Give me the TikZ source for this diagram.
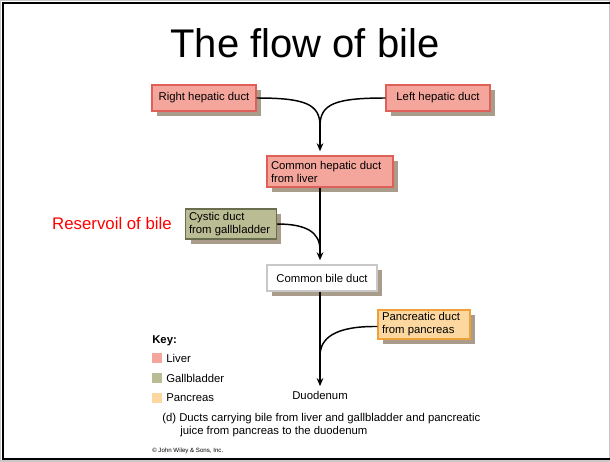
\documentclass[tikz,border=0pt]{standalone}
\usepackage{fontspec}
\setmainfont{Liberation Sans}
\usetikzlibrary{arrows.meta,shadows}
\definecolor{liverfill}{RGB}{244,166,156}
\definecolor{liverdraw}{RGB}{222,96,88}
\definecolor{gallfill}{RGB}{186,188,148}
\definecolor{galldraw}{RGB}{104,110,78}
\definecolor{pancfill}{RGB}{252,216,160}
\definecolor{pancdraw}{RGB}{240,160,56}
\definecolor{bilefdraw}{RGB}{200,200,200}
\definecolor{shadowc}{RGB}{170,156,138}
\tikzset{
  txt/.style={font=\fontsize{8.5}{9.8}\selectfont},
  duct/.style={txt, draw, line width=1.1pt, inner ysep=0pt, inner xsep=3pt, align=flush left,
    drop shadow={shadow xshift=3.75pt, shadow yshift=-3.75pt, fill=shadowc, opacity=1}},
  liver/.style={duct, fill=liverfill, draw=liverdraw},
  gall/.style={duct, fill=gallfill, draw=galldraw},
  panc/.style={duct, fill=pancfill, draw=pancdraw},
  white/.style={duct, fill=white, draw=bilefdraw},
  flow/.style={line width=1.1pt, -{Stealth[length=6pt,width=5pt]}},
  pipe/.style={line width=1.1pt},
  keysq/.style={fill=#1, minimum size=7.5pt, inner sep=0pt},
}
\begin{document}
\begin{tikzpicture}[x=0.75pt,y=-0.75pt]
\useasboundingbox (0,0) rectangle (610,461);
\fill[white] (0,0) rectangle (610,461);
\draw[line width=1.5pt] (620,3) -- (3,3) -- (3,459) -- (620,459);

\node[anchor=base, font=\fontsize{30}{34}\selectfont] (title) at (305,57) {The flow of bile};

\node[liver, minimum width=78pt, minimum height=19.5pt, align=center] (rh) at (204,98) {Right hepatic duct};
\node[liver, minimum width=78pt, minimum height=19.5pt, align=center] (lh) at (438,98) {Left hepatic duct};
\node[liver, minimum height=23.25pt, text width=88.5pt] (ch) at (330,171.5) {Common hepatic duct\\from liver};
\node[gall, minimum height=22.5pt, text width=63pt, inner xsep=2.5pt] (cy) at (231,224) {Cystic duct\\from gallbladder};
\node[white, minimum width=82.5pt, minimum height=19.5pt, align=center] (cb) at (322,278) {Common bile duct};
\node[panc, minimum height=21.75pt, text width=63pt] (pc) at (424,324.5) {Pancreatic duct\\from pancreas};

\node[txt] (duo) at (320,395) {Duodenum};
\node[text=red, font=\fontsize{12.6}{14}\selectfont] (res) at (112,223) {Reservoil of bile};

\coordinate (m1) at (320,126);
\coordinate (m2) at (320,250);
\coordinate (m3) at (320,356);

\draw[pipe] (rh.east) .. controls (305,98) and (320,104) .. (m1);
\draw[pipe] (lh.west) .. controls (335,98) and (320,104) .. (m1);
\draw[flow, shorten >=3pt] (m1) -- (ch.north -| m1);
\draw[flow, shorten >=3pt] (ch.south -| m1) -- (cb.north -| m1);
\draw[pipe] (cy.east) .. controls (306,224) and (320,232) .. (m2);
\draw[flow] (cb.south -| m1) -- (duo.north -| m1);
\draw[pipe] ([yshift=-1.5pt]pc.west) .. controls (335,326) and (320,338) .. (m3);

\node[txt, font=\fontsize{8.5}{9.6}\selectfont\bfseries, anchor=west, inner sep=0pt] (key) at (152,341) {Key:};
\node[keysq=liverfill] (k1) at (157,358) {};
\node[keysq=gallfill] (k2) at (157,378) {};
\node[keysq=pancfill] (k3) at (157,398) {};
\node[txt, anchor=west, inner sep=0pt] (k1t) at (166,358) {Liver};
\node[txt, anchor=west, inner sep=0pt] (k2t) at (166,378) {Gallbladder};
\node[txt, anchor=west, inner sep=0pt] (k3t) at (166,398) {Pancreas};

\node[txt, anchor=west, inner sep=0pt] (cap1) at (162,419) {(d) Ducts carrying bile from liver and gallbladder and pancreatic};
\node[txt, anchor=west, inner sep=0pt] (cap2) at (180,432) {juice from pancreas to the duodenum};
\node[anchor=west, inner sep=0pt, font=\fontsize{4.6}{5}\selectfont] (copy) at (152,451) {© John Wiley \& Sons, Inc.};
\end{tikzpicture}
\end{document}
